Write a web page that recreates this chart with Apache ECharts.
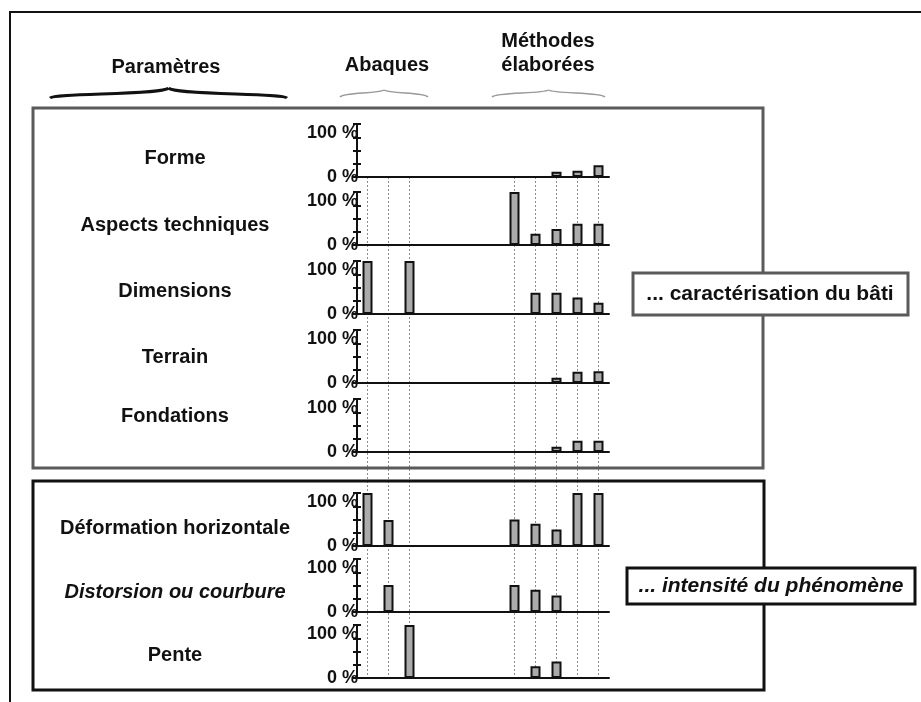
<!DOCTYPE html>
<html>
<head>
<meta charset="utf-8">
<script src="https://cdn.jsdelivr.net/npm/echarts@6/dist/echarts.min.js"></script>
<style>
html, body { margin: 0; padding: 0; background: #fff; }
#main { width: 921px; height: 702px; }
</style>
</head>
<body>
<div id="main"></div>
<script>
// colonnes : 3 abaques, 4 vides, 5 méthodes élaborées
var slots = ['A1', 'A2', 'A3', 'g1', 'g2', 'g3', 'g4', 'M1', 'M2', 'M3', 'M4', 'M5'];
var parametres = ['Forme', 'Aspects techniques', 'Dimensions', 'Terrain', 'Fondations',
    'Déformation horizontale', 'Distorsion ou courbure', 'Pente'];

// valeurs en % (null = pas de barre)
var forme       = [null, null, null, null, null, null, null, null, null, 10, 12, 22];
var aspects     = [null, null, null, null, null, null, null, 100, 21, 30, 40, 40];
var dimensions  = [100, null, 100, null, null, null, null, null, 40, 40, 31, 21];
var terrain     = [null, null, null, null, null, null, null, null, null, 10, 21, 22];
var fondations  = [null, null, null, null, null, null, null, null, null, 10, 21, 21];
var deformation = [100, 49, null, null, null, null, null, 50, 42, 31, 100, 100];
var distorsion  = [null, 51, null, null, null, null, null, 51, 42, 31, null, null];
var pente       = [null, null, 100, null, null, null, null, null, 22, 31, null, null];
var rows = [forme, aspects, dimensions, terrain, fondations, deformation, distorsion, pente];

var yTickValues = [0, 25, 50, 75, 100];
var yTickText = ['0 %', '', '', '', '100 %'];

var FONT = '"Liberation Sans", Arial, sans-serif';
// mise en page
var rowBottom = [177, 245, 314, 383, 452, 546, 612, 678];
var rowH = 53;
var labelY = [158, 225, 291, 357, 416, 528, 592, 655];

var myChart = echarts.init(document.getElementById('main'));

var grid = [], xAxis = [], yAxis = [], series = [];
for (var i = 0; i < rows.length; i++) {
    grid.push({ left: 357, width: 252, top: rowBottom[i] - rowH, height: rowH });
    xAxis.push({
        type: 'category', gridIndex: i, data: slots, boundaryGap: true,
        axisLine: { lineStyle: { color: '#111', width: 2 } },
        axisTick: { show: false }, axisLabel: { show: false }, splitLine: { show: false }
    });
    yAxis.push({
        type: 'value', gridIndex: i, position: 'left', min: 0, max: 100, interval: 25,
        axisLine: { show: true, lineStyle: { color: '#111', width: 2 } },
        axisTick: { show: true, length: 4, lineStyle: { color: '#111', width: 2 } },
        splitLine: { show: false },
        axisLabel: {
            margin: -1, fontFamily: FONT, fontWeight: 'bold', fontSize: 18, color: '#111',
            verticalAlignMaxLabel: 'top',
            formatter: function (v) { return yTickText[yTickValues.indexOf(v)] || ''; }
        }
    });
    // petites graduations de l'autre côté de l'axe
    yAxis.push({
        type: 'value', gridIndex: i, position: 'left', min: 0, max: 100, interval: 25,
        axisLine: { show: false },
        axisTick: { show: true, inside: true, length: 4, lineStyle: { color: '#111', width: 2 } },
        axisLabel: { show: false }, splitLine: { show: false }
    });
    series.push({
        type: 'bar', xAxisIndex: i, yAxisIndex: 2 * i, data: rows[i], barWidth: 10, silent: true,
        itemStyle: { color: '#ababab', borderColor: '#111', borderWidth: 2 }
    });
}

// lignes verticales pointillées communes à toutes les lignes
grid.push({ left: 367.5, right: 322.5, top: rowBottom[0], bottom: 702 - rowBottom[7] });
xAxis.push({
    type: 'category', gridIndex: rows.length, data: slots, boundaryGap: false,
    axisLine: { show: false }, axisTick: { show: false }, axisLabel: { show: false },
    splitLine: {
        show: true,
        interval: function (idx) { return slots[idx].charAt(0) !== 'g'; },
        lineStyle: { color: '#8c8c8c', width: 1, type: [2, 2] }
    }
});
yAxis.push({ type: 'value', gridIndex: rows.length, show: false });

function txt(x, y, s, size, italic) {
    return {
        type: 'text', x: x, y: y, z: 20,
        style: {
            text: s, fill: '#111', fontFamily: FONT, fontWeight: 'bold', fontSize: size,
            fontStyle: italic ? 'italic' : 'normal', align: 'center', verticalAlign: 'middle'
        }
    };
}

function brace(x1, x2, y, tip, color, w) {
    var m = (x1 + x2) / 2;
    return [
        { type: 'bezierCurve', z: 5, shape: { x1: x1, y1: y + 3, cpx1: x1 + 4, cpy1: y - 2, cpx2: m - 6, cpy2: y, x2: m, y2: y - tip },
          style: { stroke: color, lineWidth: w, fill: 'none' } },
        { type: 'bezierCurve', z: 5, shape: { x1: m, y1: y - tip, cpx1: m + 6, cpy1: y, cpx2: x2 - 4, cpy2: y - 2, x2: x2, y2: y + 3 },
          style: { stroke: color, lineWidth: w, fill: 'none' } }
    ];
}

var graphic = [
    { type: 'polyline', z: 1, shape: { points: [[10, 702], [10, 12], [921, 12]] }, style: { stroke: '#111', lineWidth: 2, fill: 'none' } },
    { type: 'rect', z: 1, shape: { x: 33, y: 108, width: 730, height: 360 }, style: { stroke: '#5a5a5a', lineWidth: 3, fill: 'none' } },
    { type: 'rect', z: 1, shape: { x: 33, y: 481, width: 731, height: 209 }, style: { stroke: '#111', lineWidth: 3, fill: 'none' } },
    { type: 'rect', z: 10, shape: { x: 633, y: 273, width: 275, height: 42 }, style: { stroke: '#5a5a5a', lineWidth: 3, fill: '#fff' } },
    { type: 'rect', z: 10, shape: { x: 627, y: 568, width: 288, height: 36 }, style: { stroke: '#111', lineWidth: 3, fill: '#fff' } },
    txt(770, 294, '... caractérisation du bâti', 21, false),
    txt(771, 586, '... intensité du phénomène', 21, true),
    txt(166, 67, 'Paramètres', 20, false),
    txt(387, 65, 'Abaques', 20, false),
    txt(548, 41, 'Méthodes', 20, false),
    txt(548, 65, 'élaborées', 20, false)
];
graphic = graphic.concat(brace(50, 287, 95, 7, '#111', 3));
graphic = graphic.concat(brace(340, 428, 94, 4, '#999', 1.5));
graphic = graphic.concat(brace(492, 605, 94, 4, '#999', 1.5));
for (var k = 0; k < parametres.length; k++) {
    graphic.push(txt(175, labelY[k], parametres[k], 20, parametres[k] === 'Distorsion ou courbure'));
}

var option = {
    backgroundColor: '#fff',
    animation: false,
    grid: grid,
    xAxis: xAxis,
    yAxis: yAxis,
    series: series,
    graphic: graphic
};
myChart.setOption(option);
</script>
</body>
</html>
